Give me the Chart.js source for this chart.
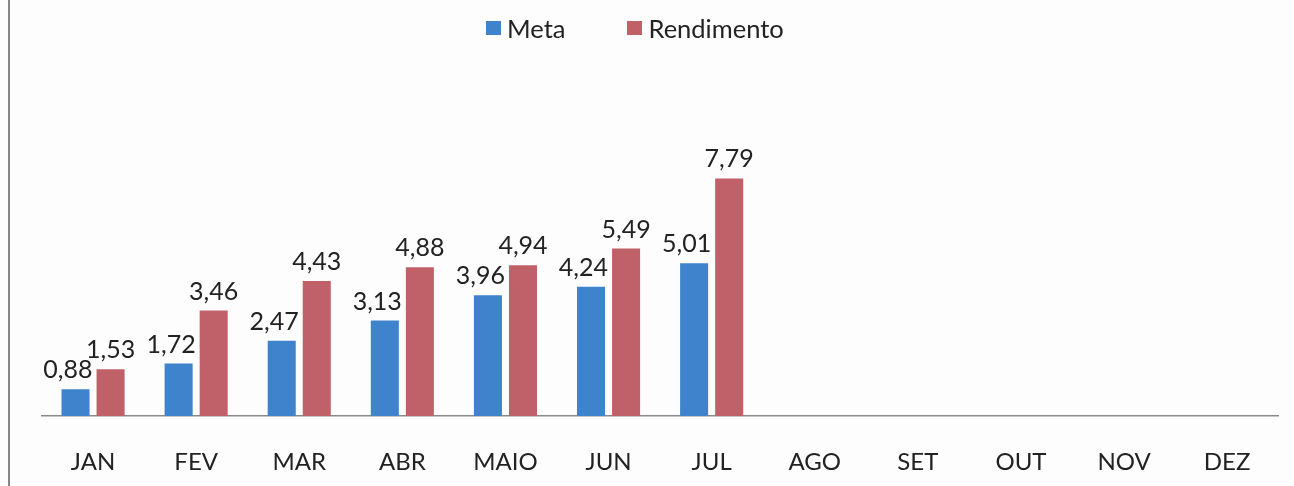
<!DOCTYPE html>
<html>
<head>
<meta charset="utf-8">
<script src="https://cdn.jsdelivr.net/npm/chart.js@4"></script>
<style>
  body { margin: 0; background: #fff; }
  #wrap { position: relative; width: 1294px; height: 486px; background: #fdfdfd; }
  #wrap:before { content: ""; position: absolute; left: 8px; top: 0; width: 2px; height: 486px; background: #858585; }
  #legend { position: absolute; left: 486px; top: 13px; display: flex; align-items: center;
            font-family: Lato, sans-serif; font-size: 25.5px; color: #222; }
  #legend .item { display: flex; align-items: center; margin-right: 62px; }
  #legend .box { width: 15px; height: 14px; margin-right: 6px; }
</style>
</head>
<body>
<div id="wrap">
  <canvas id="grafico" width="1294" height="486"></canvas>
  <div id="legend"></div>
</div>
<script>
var meses = ["JAN", "FEV", "MAR", "ABR", "MAIO", "JUN", "JUL", "AGO", "SET", "OUT", "NOV", "DEZ"]
var meta = [0.88, 1.72, 2.47, 3.13, 3.96, 4.24, 5.01, null, null, null, null, null]
var rendimento = [1.53, 3.46, 4.43, 4.88, 4.94, 5.49, 7.79, null, null, null, null, null]

var azul = "#3e83cc"
var vermelho = "#c0616a"

// rotulos de valor em cima das barras (meta encostado a direita, como no excel)
var rotulos = {
  id: 'rotulos',
  afterDatasetsDraw: function(chart) {
    var ctx = chart.ctx
    ctx.save()
    ctx.font = "25px Lato, sans-serif"
    ctx.fillStyle = "#222"
    ctx.textBaseline = "middle"
    chart.data.datasets.forEach(function(ds, i) {
      chart.getDatasetMeta(i).data.forEach(function(bar, j) {
        var v = ds.data[j]
        if (v == null) return
        var txt = v.toFixed(2).replace('.', ',')
        if (i == 0) {
          ctx.textAlign = "right"
          ctx.fillText(txt, bar.x + bar.width / 2 + 3, bar.y - 19)
        } else {
          ctx.textAlign = "center"
          ctx.fillText(txt, bar.x, bar.y - 19)
        }
      })
    })
    ctx.restore()
  }
}

var context = document.getElementById("grafico").getContext('2d')
var chart = new Chart(context, {
  type: 'bar',
  data: {
    labels: meses,
    datasets: [
      { label: "Meta", backgroundColor: azul, data: meta },
      { label: "Rendimento", backgroundColor: vermelho, data: rendimento }
    ]
  },
  options: {
    responsive: false,
    animation: false,
    categoryPercentage: 0.68,
    barPercentage: 0.8,
    layout: { padding: { top: 50, left: 41.5, right: 15.3, bottom: 0 } },
    plugins: { legend: { display: false }, tooltip: { enabled: false } },
    scales: {
      x: {
        grid: { display: false, drawTicks: false },
        border: { display: true, color: "#8a8a8a", width: 1.5 },
        ticks: { color: "#222", padding: 32, font: { family: "Lato, sans-serif", size: 24 } },
        afterFit: function(scale) { scale.height = 70 }
      },
      y: { display: false, min: 0, max: 12 }
    }
  },
  plugins: [rotulos]
})

// legenda em html
var leg = document.getElementById("legend")
chart.data.datasets.forEach(function(ds) {
  var item = document.createElement("div")
  item.className = "item"
  item.innerHTML = '<span class="box" style="background:' + ds.backgroundColor + '"></span>' + ds.label
  leg.appendChild(item)
})
</script>
</body>
</html>
